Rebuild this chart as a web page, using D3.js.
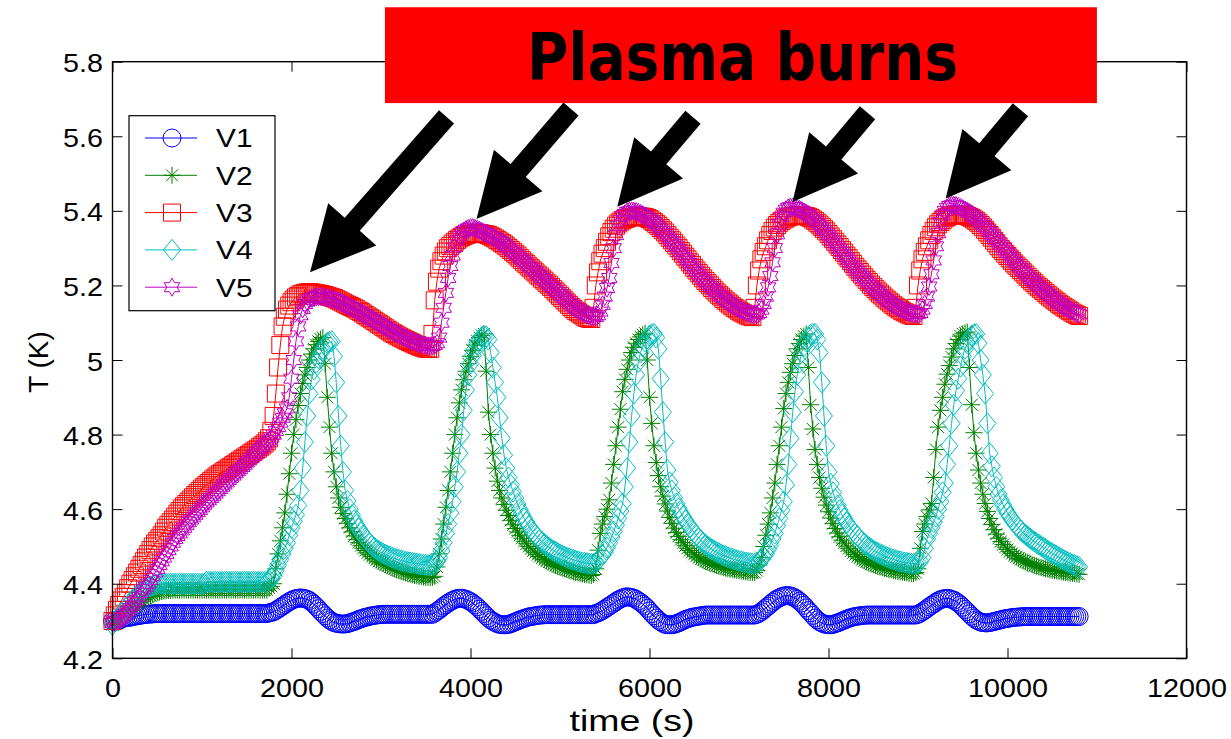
<!DOCTYPE html>
<html><head><meta charset="utf-8">
<script src="https://cdn.jsdelivr.net/npm/d3@7"></script>
<style>
html,body{margin:0;padding:0;background:#fff;}
svg{display:block;}
</style></head><body>
<svg id="chart" width="1231" height="739"></svg>
<script>
// ---------- data (sampled every 25 s, 0..10800 s) ----------
const time = d3.range(0, 10801, 25);
const V1 = [
4.30,4.30,4.30,4.302,4.305,4.308,4.31,4.31,4.31,4.312,4.313,4.314,4.315,4.316,4.317,4.318,4.318,4.319,4.319,4.32,4.32,
4.32,4.32,4.32,4.32,4.32,4.32,4.32,4.32,4.32,4.32,4.32,4.32,4.32,4.32,4.32,4.32,4.32,4.32,4.32,4.32,4.32,4.32,4.32,4.32,4.32,4.32,4.32,4.32,4.32,4.32,4.32,4.32,4.32,4.32,4.32,4.32,4.32,4.32,4.32,4.32,4.32,4.32,4.32,4.32,4.32,4.32,4.32,4.32,4.32,
4.322,4.323,
4.325,4.328,4.332,4.336,4.34,4.344,4.348,4.352,4.355,4.358,4.36,4.361,4.362,4.361,4.36,4.358,4.355,4.35,4.345,4.339,4.333,4.326,4.32,4.314,4.308,4.303,4.299,4.296,4.294,4.293,4.292,4.292,4.292,4.293,4.295,4.297,4.299,4.301,4.304,4.306,4.308,4.31,4.311,4.313,4.314,4.315,4.316,4.317,4.317,
4.318,4.318,4.318,4.318,4.318,4.318,4.318,4.318,4.318,4.318,4.318,4.318,4.318,4.318,4.318,4.318,4.318,4.318,4.318,4.318,4.318,4.318,4.318,
4.322,4.326,4.33,4.335,4.34,4.344,4.348,4.352,4.355,4.358,4.36,4.361,4.361,4.36,4.358,4.355,4.352,4.348,4.343,4.338,4.332,4.326,4.32,4.314,4.308,4.303,4.299,4.296,4.293,4.291,4.29,4.29,4.29,4.291,4.293,4.295,4.298,4.30,4.303,4.305,4.307,4.309,4.311,4.312,4.313,4.314,4.315,4.316,4.316,
4.317,4.317,4.317,4.317,4.317,4.317,4.317,4.317,4.317,4.317,4.317,4.317,4.317,4.317,4.317,4.317,4.317,4.317,4.317,4.317,4.317,4.317,4.317,
4.32,4.322,4.325,4.328,4.332,4.336,4.34,4.344,4.348,4.352,4.356,4.359,4.362,4.364,4.365,4.364,4.363,4.361,4.358,4.354,4.35,4.345,4.34,4.334,4.327,4.32,4.314,4.308,4.302,4.298,4.294,4.291,4.29,4.29,4.29,4.291,4.293,4.295,4.298,4.301,4.304,4.306,4.308,4.31,4.311,4.312,4.313,4.314,4.315,
4.316,4.316,4.316,4.316,4.316,4.316,4.316,4.316,4.316,4.316,4.316,4.316,4.316,4.316,4.316,4.316,4.316,4.316,4.316,4.316,4.316,4.316,4.316,
4.318,4.321,4.325,4.33,4.335,4.34,4.345,4.35,4.355,4.359,4.362,4.365,4.367,4.368,4.368,4.367,4.365,4.362,4.358,4.353,4.348,4.342,4.335,4.328,4.322,4.315,4.308,4.303,4.298,4.295,4.292,4.291,4.29,4.29,4.291,4.293,4.295,4.297,4.30,4.302,4.305,4.307,4.309,4.311,4.312,4.313,4.314,4.315,4.315,
4.316,4.316,4.316,4.316,4.316,4.316,4.316,4.316,4.316,4.316,4.316,4.316,4.316,4.316,4.316,4.316,4.316,4.316,4.316,4.316,4.316,4.316,4.316,
4.318,4.321,4.325,4.329,4.333,4.338,4.342,4.346,4.35,4.354,4.357,4.359,4.36,4.361,4.36,4.358,4.356,4.352,4.348,4.343,4.337,4.331,4.325,4.319,4.313,4.308,4.303,4.30,4.297,4.296,4.295,4.295,4.296,4.297,4.299,4.30,4.302,4.303,4.305,4.306,4.307,4.308,4.309,4.31,4.31,4.311,4.311,4.312,4.312,
4.312,4.312,4.312,4.312,4.312,4.312,4.312,4.312,4.312,4.312,4.312,4.312,4.312,4.312,4.312,4.312,4.312,4.312,4.312,4.312,4.312,4.312,4.312,
4.312];
const V2 = [
4.29,4.295,4.30,4.305,4.31,4.315,4.32,4.325,4.33,4.335,4.34,4.345,4.35,4.354,4.358,4.362,4.365,4.368,4.371,4.374,4.376,4.378,4.379,4.38,4.381,4.382,4.382,
4.383,4.383,4.383,4.383,4.383,4.383,4.383,4.383,4.383,4.383,4.383,4.383,4.383,4.383,4.383,4.383,4.383,4.383,4.383,4.383,4.383,4.383,4.383,4.383,4.383,4.383,4.383,4.383,4.383,4.383,4.383,4.383,4.383,4.383,4.383,4.383,4.383,4.383,4.383,4.383,4.383,4.383,4.383,
4.388,4.393,
4.40,4.44,4.48,4.515,4.55,4.59,4.64,4.695,4.75,4.80,4.84,4.878,4.91,4.937,4.96,4.98,5.00,5.016,5.03,5.041,5.05,5.056,5.06,4.99,4.90,4.82,4.75,4.70,4.66,4.63,4.605,4.588,4.575,4.562,4.55,4.539,4.528,4.519,4.51,4.502,4.495,4.489,4.483,4.478,4.473,4.468,4.464,4.46,4.457,4.454,4.451,4.448,4.445,4.442,4.44,4.437,4.435,4.433,4.431,4.429,4.427,4.425,4.424,4.422,4.421,4.42,4.419,4.418,4.417,4.417,4.416,4.417,
4.42,4.445,4.48,4.52,4.56,4.605,4.65,4.70,4.75,4.80,4.845,4.885,4.92,4.947,4.97,4.99,5.01,5.026,5.04,5.051,5.06,5.066,5.07,4.97,4.86,4.80,4.75,4.71,4.675,4.65,4.63,4.612,4.597,4.583,4.57,4.558,4.548,4.539,4.53,4.522,4.514,4.507,4.50,4.494,4.488,4.483,4.478,4.473,4.469,4.465,4.461,4.458,4.455,4.452,4.449,4.446,4.444,4.442,4.44,4.438,4.436,4.434,4.432,4.43,4.429,4.427,4.426,4.425,4.424,4.423,4.422,4.425,
4.44,4.49,4.535,4.56,4.58,4.60,4.625,4.67,4.72,4.77,4.82,4.868,4.915,4.948,4.975,5.0,5.02,5.034,5.045,5.055,5.062,5.068,5.072,5.0,4.90,4.83,4.77,4.725,4.69,4.66,4.635,4.614,4.595,4.578,4.562,4.549,4.537,4.527,4.518,4.51,4.502,4.495,4.489,4.484,4.479,4.474,4.47,4.466,4.463,4.46,4.458,4.455,4.453,4.451,4.449,4.447,4.445,4.443,4.442,4.44,4.439,4.438,4.437,4.436,4.435,4.434,4.433,4.432,4.431,4.43,4.43,4.43,
4.435,4.45,4.47,4.50,4.53,4.56,4.59,4.63,4.67,4.72,4.77,4.82,4.87,4.91,4.94,4.967,4.99,5.012,5.03,5.044,5.055,5.064,5.07,4.98,4.88,4.815,4.76,4.72,4.685,4.656,4.632,4.611,4.593,4.576,4.561,4.548,4.536,4.526,4.517,4.509,4.501,4.494,4.488,4.483,4.478,4.473,4.469,4.465,4.462,4.459,4.456,4.453,4.451,4.449,4.447,4.445,4.443,4.441,4.44,4.438,4.437,4.435,4.434,4.433,4.432,4.431,4.43,4.429,4.428,4.427,4.427,4.43,
4.44,4.495,4.54,4.56,4.58,4.598,4.615,4.685,4.76,4.82,4.865,4.90,4.935,4.962,4.985,5.008,5.03,5.044,5.055,5.064,5.07,5.073,5.075,4.98,4.88,4.805,4.75,4.705,4.67,4.64,4.615,4.594,4.575,4.559,4.545,4.533,4.522,4.513,4.505,4.498,4.492,4.486,4.481,4.476,4.472,4.468,4.465,4.462,4.459,4.456,4.454,4.451,4.449,4.447,4.445,4.443,4.442,4.44,4.439,4.437,4.436,4.435,4.434,4.433,4.432,4.431,4.43,4.429,4.428,4.427,4.427,4.426,
4.425];
const V3 = [
4.30,4.315,4.33,4.343,4.355,4.365,4.375,4.388,4.40,4.41,4.42,4.43,4.44,4.45,4.46,4.47,4.48,4.49,4.50,4.508,4.515,4.522,4.53,4.54,4.55,4.558,4.565,4.572,4.58,4.588,4.595,4.602,4.608,4.614,4.62,4.626,4.632,4.638,4.643,4.649,4.655,4.66,4.665,4.67,4.675,4.68,4.685,4.69,4.694,4.698,4.702,4.706,4.71,4.714,4.718,4.722,4.726,4.73,4.734,4.738,4.742,4.746,4.75,4.754,4.758,4.762,4.767,4.771,4.776,4.782,4.79,4.81,
4.85,4.91,4.98,5.04,5.09,5.116,5.135,5.146,5.155,5.162,5.168,5.172,5.176,5.178,5.18,5.181,5.182,5.181,5.18,5.179,5.178,5.177,5.175,5.174,5.172,5.17,5.168,5.166,5.163,5.16,5.157,5.154,5.151,5.148,5.145,5.142,5.139,5.136,5.132,5.129,5.125,5.121,5.117,5.113,5.109,5.105,5.101,5.097,5.093,5.089,5.085,5.081,5.077,5.073,5.07,5.066,5.063,5.06,5.057,5.054,5.051,5.048,5.045,5.042,5.04,5.037,5.035,5.033,5.031,5.03,5.03,5.07,
5.16,5.21,5.245,5.265,5.28,5.291,5.30,5.306,5.312,5.317,5.322,5.326,5.33,5.333,5.335,5.337,5.338,5.339,5.34,5.34,5.34,5.339,5.338,5.337,5.335,5.332,5.329,5.326,5.322,5.318,5.314,5.31,5.305,5.30,5.295,5.29,5.285,5.28,5.274,5.268,5.262,5.257,5.251,5.246,5.24,5.235,5.229,5.224,5.218,5.213,5.207,5.202,5.196,5.19,5.184,5.178,5.172,5.166,5.16,5.154,5.148,5.142,5.137,5.132,5.128,5.124,5.12,5.116,5.113,5.111,5.11,5.14,
5.20,5.235,5.265,5.285,5.30,5.317,5.332,5.343,5.352,5.36,5.366,5.371,5.375,5.378,5.38,5.382,5.383,5.384,5.385,5.385,5.385,5.384,5.383,5.381,5.378,5.374,5.37,5.365,5.36,5.354,5.348,5.342,5.335,5.328,5.321,5.314,5.307,5.30,5.292,5.285,5.277,5.27,5.262,5.255,5.247,5.24,5.233,5.226,5.219,5.212,5.206,5.20,5.193,5.187,5.181,5.175,5.17,5.164,5.159,5.154,5.149,5.144,5.14,5.136,5.132,5.128,5.125,5.122,5.119,5.117,5.115,5.14,
5.20,5.24,5.27,5.29,5.305,5.321,5.335,5.346,5.355,5.362,5.368,5.373,5.377,5.38,5.383,5.385,5.386,5.387,5.388,5.388,5.388,5.387,5.386,5.384,5.381,5.377,5.373,5.368,5.363,5.357,5.351,5.345,5.338,5.331,5.324,5.317,5.31,5.303,5.295,5.288,5.28,5.273,5.265,5.258,5.25,5.243,5.236,5.229,5.222,5.215,5.209,5.202,5.196,5.19,5.184,5.178,5.173,5.167,5.162,5.157,5.152,5.147,5.143,5.139,5.135,5.131,5.128,5.125,5.122,5.12,5.118,5.14,
5.20,5.24,5.27,5.29,5.305,5.321,5.335,5.346,5.356,5.364,5.37,5.375,5.38,5.383,5.386,5.388,5.389,5.39,5.39,5.39,5.389,5.388,5.386,5.384,5.381,5.377,5.373,5.368,5.362,5.356,5.349,5.342,5.335,5.328,5.32,5.313,5.305,5.298,5.292,5.285,5.279,5.272,5.266,5.259,5.253,5.247,5.241,5.235,5.229,5.223,5.217,5.211,5.206,5.20,5.195,5.19,5.185,5.18,5.175,5.17,5.165,5.16,5.156,5.151,5.147,5.143,5.139,5.135,5.131,5.127,5.124,5.121,
5.118];
const V4 = [
4.29,4.298,4.305,4.313,4.32,4.328,4.335,4.343,4.35,4.357,4.363,4.369,4.374,4.379,4.383,4.387,4.39,4.393,4.395,4.397,4.398,4.399,
4.40,4.40,4.40,4.40,4.40,4.40,4.40,4.40,4.40,4.40,4.40,4.40,4.40,4.40,4.40,4.40,4.40,4.40,4.40,4.40,
4.405,4.405,4.405,4.405,4.405,4.405,4.405,4.405,4.405,4.405,4.405,4.405,4.405,4.405,4.405,4.405,4.405,4.405,4.405,4.405,4.405,4.405,4.405,4.405,4.405,4.405,4.405,4.405,
4.41,4.415,
4.42,4.435,4.45,4.465,4.48,4.495,4.51,4.53,4.55,4.567,4.585,4.61,4.65,4.71,4.78,4.85,4.91,4.948,4.975,4.992,5.005,5.018,5.03,5.039,5.045,5.048,5.05,5.01,4.94,4.85,4.77,4.70,4.65,4.622,4.60,4.584,4.57,4.558,4.548,4.539,4.53,4.522,4.515,4.508,4.502,4.497,4.492,4.488,4.484,4.481,4.478,4.475,4.473,4.47,4.468,4.466,4.464,4.462,4.461,4.459,4.458,4.457,4.456,4.455,4.454,4.453,4.452,4.451,4.451,4.45,4.45,4.451,
4.452,4.46,4.47,4.488,4.51,4.535,4.56,4.59,4.62,4.66,4.70,4.75,4.80,4.865,4.92,4.96,4.99,5.012,5.03,5.044,5.055,5.061,5.065,5.063,5.055,5.02,4.98,4.94,4.90,4.845,4.79,4.745,4.71,4.685,4.665,4.647,4.63,4.614,4.60,4.587,4.575,4.565,4.555,4.546,4.538,4.531,4.524,4.518,4.512,4.507,4.502,4.497,4.493,4.489,4.486,4.482,4.479,4.476,4.473,4.47,4.468,4.466,4.464,4.462,4.46,4.458,4.457,4.456,4.455,4.454,4.453,4.454,
4.455,4.462,4.47,4.477,4.485,4.497,4.51,4.525,4.54,4.557,4.575,4.595,4.615,4.66,4.71,4.78,4.85,4.91,4.96,4.995,5.02,5.037,5.05,5.058,5.065,5.069,5.07,5.06,5.03,4.95,4.86,4.78,4.705,4.672,4.65,4.631,4.615,4.602,4.59,4.58,4.57,4.561,4.552,4.544,4.537,4.529,4.522,4.516,4.51,4.505,4.50,4.496,4.492,4.488,4.485,4.482,4.479,4.476,4.474,4.471,4.469,4.467,4.465,4.463,4.461,4.46,4.458,4.457,4.456,4.455,4.454,4.454,
4.455,4.46,4.465,4.472,4.48,4.492,4.505,4.52,4.535,4.555,4.575,4.597,4.62,4.665,4.72,4.79,4.86,4.915,4.96,4.993,5.02,5.037,5.05,5.06,5.068,5.07,5.07,5.055,5.02,4.94,4.85,4.77,4.70,4.668,4.645,4.626,4.61,4.597,4.585,4.575,4.565,4.556,4.548,4.541,4.534,4.527,4.52,4.514,4.508,4.503,4.498,4.494,4.49,4.486,4.483,4.48,4.477,4.474,4.472,4.469,4.467,4.465,4.463,4.461,4.46,4.458,4.457,4.456,4.455,4.454,4.453,4.454,
4.455,4.46,4.47,4.495,4.52,4.535,4.55,4.565,4.58,4.60,4.62,4.645,4.67,4.72,4.77,4.83,4.88,4.918,4.95,4.982,5.01,5.03,5.045,5.057,5.065,5.069,5.07,5.045,5.0,4.96,4.91,4.83,4.75,4.715,4.685,4.66,4.64,4.625,4.612,4.60,4.59,4.581,4.572,4.564,4.556,4.549,4.542,4.537,4.532,4.527,4.522,4.517,4.513,4.509,4.505,4.501,4.497,4.493,4.489,4.485,4.482,4.478,4.475,4.471,4.468,4.464,4.461,4.458,4.455,4.452,4.45,4.447,
4.445];
const V5 = [
4.295,4.297,4.30,4.305,4.31,4.315,4.32,4.327,4.335,4.342,4.35,4.357,4.365,4.375,4.385,4.392,4.40,4.41,4.42,4.43,4.44,4.45,4.46,4.47,4.48,4.49,4.50,4.51,4.52,4.528,4.535,4.543,4.55,4.558,4.565,4.572,4.578,4.585,4.592,4.598,4.605,4.612,4.618,4.624,4.63,4.636,4.642,4.648,4.654,4.66,4.666,4.672,4.678,4.684,4.69,4.696,4.702,4.707,4.713,4.719,4.725,4.731,4.737,4.743,4.749,4.755,4.761,4.767,4.773,4.779,4.785,4.792,
4.80,4.81,4.82,4.832,4.845,4.857,4.87,4.90,4.95,5.00,5.05,5.09,5.12,5.137,5.15,5.157,5.163,5.166,5.168,5.169,5.17,5.17,5.169,5.168,5.167,5.166,5.164,5.162,5.16,5.158,5.155,5.152,5.149,5.146,5.143,5.14,5.137,5.134,5.13,5.127,5.123,5.12,5.116,5.113,5.109,5.106,5.102,5.099,5.095,5.092,5.088,5.085,5.081,5.078,5.074,5.071,5.068,5.065,5.062,5.059,5.056,5.053,5.051,5.048,5.046,5.044,5.042,5.04,5.039,5.038,5.038,5.038,
5.04,5.045,5.06,5.10,5.14,5.18,5.22,5.252,5.28,5.302,5.32,5.332,5.34,5.346,5.35,5.353,5.355,5.355,5.353,5.351,5.348,5.345,5.342,5.339,5.336,5.333,5.33,5.327,5.323,5.319,5.315,5.311,5.306,5.301,5.296,5.291,5.286,5.281,5.275,5.27,5.264,5.259,5.253,5.248,5.242,5.237,5.231,5.226,5.22,5.215,5.209,5.204,5.198,5.193,5.187,5.182,5.176,5.171,5.165,5.16,5.154,5.149,5.144,5.139,5.135,5.131,5.127,5.124,5.121,5.119,5.117,5.116,
5.115,5.12,5.13,5.148,5.17,5.193,5.22,5.26,5.30,5.335,5.36,5.375,5.385,5.392,5.397,5.399,5.40,5.399,5.398,5.396,5.393,5.39,5.386,5.382,5.378,5.374,5.369,5.364,5.358,5.352,5.346,5.34,5.333,5.326,5.319,5.312,5.305,5.298,5.29,5.283,5.275,5.268,5.26,5.253,5.245,5.238,5.231,5.224,5.218,5.211,5.205,5.199,5.193,5.187,5.182,5.176,5.171,5.166,5.161,5.156,5.152,5.148,5.144,5.14,5.137,5.134,5.131,5.128,5.126,5.124,5.123,5.122,
5.122,5.126,5.135,5.15,5.17,5.195,5.225,5.262,5.30,5.337,5.365,5.383,5.395,5.403,5.408,5.41,5.41,5.409,5.407,5.404,5.401,5.397,5.393,5.389,5.384,5.379,5.374,5.368,5.362,5.356,5.349,5.342,5.335,5.328,5.32,5.313,5.305,5.298,5.29,5.283,5.275,5.268,5.26,5.253,5.246,5.239,5.232,5.225,5.219,5.212,5.206,5.20,5.194,5.188,5.183,5.177,5.172,5.167,5.162,5.157,5.153,5.149,5.145,5.141,5.138,5.135,5.132,5.129,5.127,5.125,5.124,5.123,
5.123,5.126,5.135,5.15,5.17,5.197,5.23,5.267,5.305,5.34,5.37,5.388,5.40,5.408,5.413,5.415,5.415,5.414,5.412,5.409,5.406,5.402,5.398,5.394,5.389,5.384,5.379,5.374,5.368,5.362,5.356,5.35,5.343,5.336,5.329,5.322,5.315,5.308,5.301,5.294,5.287,5.28,5.273,5.266,5.259,5.252,5.246,5.239,5.233,5.227,5.221,5.215,5.209,5.203,5.198,5.192,5.187,5.182,5.177,5.172,5.167,5.162,5.158,5.153,5.149,5.145,5.141,5.137,5.134,5.131,5.128,5.125,
5.122];

const seriesNames = ["V1","V2","V3","V4","V5"];
const seriesValues = [V1, V2, V3, V4, V5];
const seriesColors = ["#0000ff","#008000","#ff0000","#00bfbf","#bf00bf"];
const seriesMarkers = ["circle","asterisk","square","diamond","hexagram"];

const xTicks = [0,2000,4000,6000,8000,10000,12000];
const xTickLabels = ["0","2000","4000","6000","8000","10000","12000"];
const yTicks = [4.2,4.4,4.6,4.8,5.0,5.2,5.4,5.6,5.8];
const yTickLabels = ["4.2","4.4","4.6","4.8","5","5.2","5.4","5.6","5.8"];
const xLabel = "time (s)";
const yLabel = "T (K)";
const bannerText = "Plasma burns";
// arrow annotations (time, temperature)
const arrowTips  = [[2207,5.235],[4067,5.378],[5640,5.411],[7597,5.424],[9309,5.433]];
const arrowTails = [[3732,5.652],[5123,5.673],[6486,5.651],[8436,5.663],[10145,5.671]];
// banner box corners (time, temperature)
const bannerBox = {t0:3044, t1:10999, T0:5.946, T1:5.689};

// ---------- layout ----------
const svg = d3.select("#chart");
const FONT = '"Liberation Sans", Arial, Helvetica, sans-serif';
const x = d3.scaleLinear().domain([0,12000]).range([112.5,1186.5]);
const y = d3.scaleLinear().domain([4.2,5.8]).range([658.3,61.7]);

svg.append("rect").attr("width",1231).attr("height",739).attr("fill","#fff");

function markerPath(type){
  switch(type){
    case "circle": return d3.symbol(d3.symbolCircle, Math.PI*9*9)();
    case "square": return "M-8.5,-8.5H8.5V8.5H-8.5Z";
    case "diamond": return "M0,-10.5L8.5,0L0,10.5L-8.5,0Z";
    case "asterisk": return "M0,-8.5V8.5M-8.5,0H8.5M-6,-6L6,6M-6,6L6,-6";
    case "hexagram": {
      const R=9, r=R/Math.sqrt(3), pts=[];
      for(let k=0;k<12;k++){const a=-Math.PI/2+k*Math.PI/6, rr=k%2===0?R:r; pts.push([rr*Math.cos(a), rr*Math.sin(a)]);}
      return "M"+pts.map(p=>p[0].toFixed(2)+","+p[1].toFixed(2)).join("L")+"Z";
    }
  }
}

// ---------- series ----------
const plot = svg.append("g");
const line = d3.line().x((d,i)=>x(time[i])).y(d=>y(d));
seriesValues.forEach((vals, s) => {
  const g = plot.append("g");
  g.append("path").attr("d", line(vals)).attr("fill","none")
    .attr("stroke", seriesColors[s]).attr("stroke-width",1);
  const mp = markerPath(seriesMarkers[s]);
  g.selectAll("path.m").data(vals).join("path").attr("class","m")
    .attr("d", mp)
    .attr("transform",(d,i)=>`translate(${x(time[i])},${y(d)})`)
    .attr("fill","none").attr("stroke", seriesColors[s]).attr("stroke-width",1);
});

// ---------- axes ----------
const stretch = "scaleX(1.15)";
function styleAxis(g, anchorOrigin){
  g.select(".domain").remove();
  g.attr("font-family", FONT).attr("font-size", 25).attr("color","#000");
  g.selectAll(".tick line").attr("stroke","#000").attr("stroke-width",1);
  g.selectAll(".tick text").style("transform-box","fill-box")
    .style("transform-origin", anchorOrigin).style("transform", stretch);
}
const gB = svg.append("g").attr("transform",`translate(0,${y(4.2)})`)
  .call(d3.axisBottom(x).tickValues(xTicks).tickFormat((d,i)=>xTickLabels[i]).tickSizeInner(-10).tickSizeOuter(0).tickPadding(21));
styleAxis(gB,"50% 50%");
const gT = svg.append("g").attr("transform",`translate(0,${y(5.8)})`)
  .call(d3.axisTop(x).tickValues(xTicks).tickFormat("").tickSizeInner(-10).tickSizeOuter(0));
styleAxis(gT,"50% 50%");
const gL = svg.append("g").attr("transform",`translate(${x(0)},0)`)
  .call(d3.axisLeft(y).tickValues(yTicks).tickFormat((d,i)=>yTickLabels[i]).tickSizeInner(-10).tickSizeOuter(0).tickPadding(9.5));
styleAxis(gL,"100% 50%");
gL.selectAll(".tick text").attr("dy","0.40em");
const gR = svg.append("g").attr("transform",`translate(${x(12000)},0)`)
  .call(d3.axisRight(y).tickValues(yTicks).tickFormat("").tickSizeInner(-10).tickSizeOuter(0));
styleAxis(gR,"0% 50%");

svg.append("rect").attr("x",x(0)).attr("y",y(5.8))
  .attr("width",x(12000)-x(0)).attr("height",y(4.2)-y(5.8))
  .attr("fill","none").attr("stroke","#000").attr("stroke-width",1.4);

svg.append("text").attr("x",632).attr("y",731).attr("text-anchor","middle")
  .attr("font-family",FONT).attr("font-size",30).attr("fill","#000")
  .style("transform-box","fill-box").style("transform-origin","50% 50%").style("transform","scaleX(1.25)")
  .text(xLabel);
svg.append("text").attr("transform","translate(48,362) rotate(-90)").attr("text-anchor","middle")
  .attr("font-family",FONT).attr("font-size",28).attr("fill","#000").text(yLabel);

// ---------- legend ----------
const lg = svg.append("g");
lg.append("rect").attr("x",129).attr("y",115.7).attr("width",146).attr("height",195)
  .attr("fill","#fff").attr("stroke","#000").attr("stroke-width",1.2);
seriesNames.forEach((name,s)=>{
  const cy = 138 + s*37.3;
  lg.append("line").attr("x1",145).attr("x2",197).attr("y1",cy).attr("y2",cy)
    .attr("stroke",seriesColors[s]).attr("stroke-width",1);
  lg.append("path").attr("d",markerPath(seriesMarkers[s])).attr("transform",`translate(172,${cy})`)
    .attr("fill","none").attr("stroke",seriesColors[s]).attr("stroke-width",1);
  lg.append("text").attr("x",216).attr("y",cy+9.5).attr("font-family",FONT).attr("font-size",26)
    .attr("fill","#000").style("transform-box","fill-box").style("transform-origin","0% 50%")
    .style("transform",stretch).text(name);
});

// ---------- annotations ----------
function arrowPoints(tip, tail){
  const tx=x(tip[0]), ty=y(tip[1]), ex=x(tail[0]), ey=y(tail[1]);
  const L=Math.hypot(ex-tx, ey-ty), ux=(ex-tx)/L, uy=(ey-ty)/L, px=-uy, py=ux;
  const hl=64, hw=32, sw=10;
  const bx=tx+ux*hl, by=ty+uy*hl;
  return [[tx,ty],[bx+px*hw,by+py*hw],[bx+px*sw,by+py*sw],[ex+px*sw,ey+py*sw],
          [ex-px*sw,ey-py*sw],[bx-px*sw,by-py*sw],[bx-px*hw,by-py*hw]];
}
svg.append("g").selectAll("polygon").data(arrowTips).join("polygon")
  .attr("points",(d,i)=>arrowPoints(d, arrowTails[i]).map(p=>p.join(",")).join(" "))
  .attr("fill","#000");

const bx0=x(bannerBox.t0), bx1=x(bannerBox.t1), by0=y(bannerBox.T0), by1=y(bannerBox.T1);
svg.append("rect").attr("x",bx0).attr("y",by0).attr("width",bx1-bx0).attr("height",by1-by0).attr("fill","#ff0000");
svg.append("text").attr("x",742.5).attr("y",80).attr("text-anchor","middle")
  .attr("font-family",'"DejaVu Sans", sans-serif').attr("font-weight","bold").attr("font-size",65)
  .attr("textLength",431).attr("lengthAdjust","spacingAndGlyphs").attr("fill","#000").text(bannerText);
</script>
</body></html>
